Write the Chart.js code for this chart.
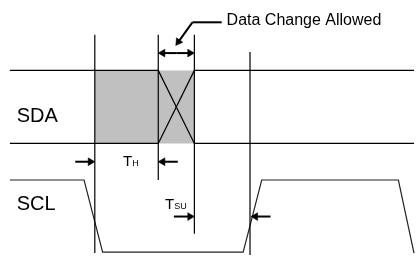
<!DOCTYPE html>
<html>
<head>
<meta charset="utf-8">
<script src="https://cdn.jsdelivr.net/npm/chart.js@4"></script>
<style>
  html, body { margin: 0; padding: 0; background: #fff; }
  canvas { display: block; }
</style>
</head>
<body>
<canvas id="timing" width="419" height="260"></canvas>
<script>
// diagram units map 1:1 onto pixels, y grows downward
const sdaLevels = [68, 144];
const sdaStart = 5, sdaEnd = 419;
const changeWindow = [157, 194];
const holdStart = 92;
const markerX = [92, 157, 194, 251];
const markerTop = [31, 31, 31, 49];
const markerBottom = [258, 182, 238, 260];
const sclX = [5, 81, 100, 244, 263, 403, 419];
const sclY = [182, 182, 257, 257, 182, 182, 258];
const arrowTails = [[72, 163], [177, 163], [173, 220], [272, 220], [176, 50], [176, 50]];
const arrowTips = [[92, 163], [157, 163], [194, 220], [252, 220], [157, 50], [194, 50]];
const leaderPath = [[222, 18], [192, 18], [175, 42]];
const labelText = ['SDA', 'SCL', 'Data Change Allowed', 'T', 'T'];
const labelSub = ['', '', '', 'H', 'SU'];
const labelX = [12, 12, 227, 121, 164];
const labelY = [122, 213, 21, 167, 212];   // baselines

const labelSize = [20, 20, 16, 15, 15];
const subSize = 9;
const HEAD = 4.5;

const pt = (p) => ({ x: p[0], y: p[1] });

function seg(data, extra) {
  return Object.assign({
    data: data,
    showLine: true,
    borderColor: '#000',
    borderWidth: 1.2,
    pointRadius: 0,
    fill: false,
    tension: 0,
    clip: false
  }, extra || {});
}

// arrow: line to the head, head is a rotated triangle point
function arrow(tail, tip, width) {
  const dx = tip[0] - tail[0], dy = tip[1] - tail[1];
  const len = Math.hypot(dx, dy);
  const c = [tip[0] - dx / len * HEAD, tip[1] - dy / len * HEAD];
  const angle = Math.atan2(dx, -dy) * 180 / Math.PI;
  return seg([pt(tail), pt(c)], {
    borderWidth: width,
    pointRadius: [0, HEAD],
    pointStyle: 'triangle',
    pointRotation: [0, angle],
    pointBackgroundColor: '#000',
    pointBorderColor: '#000',
    pointBorderWidth: 0.5
  });
}

const datasets = [];

arrowTails.forEach((t, i) => datasets.push(arrow(t, arrowTips[i], 2)));

// leader from the label down to the window arrow
const lp = leaderPath;
datasets.push(seg(lp.slice(0, 2).map(pt), { borderWidth: 2 }));
datasets.push(arrow(lp[1], lp[2], 2));

// SDA levels, broken where the data may change
sdaLevels.forEach(lv => {
  datasets.push(seg([pt([sdaStart, lv]), pt([changeWindow[0], lv])]));
  datasets.push(seg([pt([changeWindow[1], lv]), pt([sdaEnd, lv])]));
});
// crossing lines in the change window
datasets.push(seg([pt([changeWindow[0], sdaLevels[0]]), pt([changeWindow[1], sdaLevels[1]])]));
datasets.push(seg([pt([changeWindow[1], sdaLevels[0]]), pt([changeWindow[0], sdaLevels[1]])]));

// timing markers
markerX.forEach((x, i) => {
  datasets.push(seg([pt([x, markerTop[i]]), pt([x, markerBottom[i]])]));
});

// SCL clock
datasets.push(seg(sclX.map((x, i) => ({ x: x, y: sclY[i] })), { borderColor: '#222' }));

// shaded SDA region (drawn last = underneath)
datasets.push(seg([pt([holdStart, sdaLevels[0]]), pt([changeWindow[1], sdaLevels[0]])], {
  borderWidth: 0,
  backgroundColor: '#c0c0c0',
  fill: { value: sdaLevels[1] }
}));

const labelPlugin = {
  id: 'diagramLabels',
  afterDatasetsDraw(chart) {
    const ctx = chart.ctx;
    const xs = chart.scales.x, ys = chart.scales.y;
    ctx.save();
    ctx.fillStyle = '#000';
    ctx.textBaseline = 'alphabetic';
    labelText.forEach((t, i) => {
      const px = xs.getPixelForValue(labelX[i]);
      const py = ys.getPixelForValue(labelY[i]);
      ctx.font = labelSize[i] + 'px "Liberation Sans", Arial, sans-serif';
      ctx.fillText(t, px, py);
      if (labelSub[i]) {
        const w = ctx.measureText(t).width;
        ctx.font = subSize + 'px "Liberation Sans", Arial, sans-serif';
        ctx.fillText(labelSub[i], px + w, py);
      }
    });
    ctx.restore();
  }
};

new Chart(document.getElementById('timing'), {
  type: 'scatter',
  data: { datasets: datasets },
  options: {
    responsive: false,
    animation: false,
    layout: { padding: 0 },
    plugins: { legend: { display: false }, tooltip: { enabled: false } },
    scales: {
      x: { type: 'linear', min: 0, max: 419, display: false },
      y: { type: 'linear', min: 0, max: 260, reverse: true, display: false }
    }
  },
  plugins: [labelPlugin]
});
</script>
</body>
</html>
